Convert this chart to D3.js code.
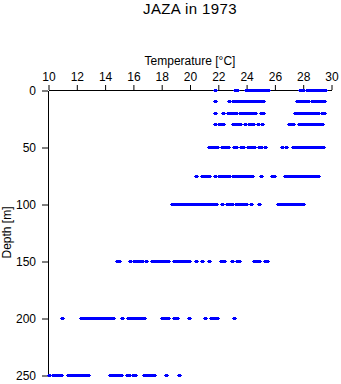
<!DOCTYPE html>
<html>
<head>
<meta charset="utf-8">
<script src="https://cdn.jsdelivr.net/npm/d3@7"></script>
<style>
  html, body { margin: 0; padding: 0; background: #fff; }
  svg { display: block; font-family: "Liberation Sans", Arial, Helvetica, sans-serif; }
</style>
</head>
<body>
<svg id="chart" width="341" height="384"></svg>
<script>
// ---- data ----
const title = "JAZA in 1973";
const xLabel = "Temperature [\u00B0C]";
const yLabel = "Depth [m]";
const xTicks = [10, 12, 14, 16, 18, 20, 22, 24, 26, 28, 30];
const yTicks = [0, 50, 100, 150, 200, 250];
const depths = [0, 10, 20, 30, 50, 75, 100, 150, 200, 250];

const temps0 = [21.80, 23.18, 23.32, 23.96, 24.06, 24.17, 24.31, 24.45, 24.56, 24.66, 24.80, 24.94, 25.05, 25.16, 25.30, 25.44, 25.54, 27.77, 27.91, 28.01, 28.26, 28.40, 28.54, 28.69, 28.83, 28.97, 29.11, 29.25, 29.39, 29.53];
const temps10 = [21.80, 22.76, 23.04, 23.21, 23.39, 23.53, 23.74, 23.88, 24.03, 24.17, 24.31, 24.45, 24.59, 24.73, 24.94, 25.16, 27.55, 27.69, 27.84, 27.98, 28.12, 28.33, 28.61, 28.75, 28.89, 29.04, 29.18, 29.32, 29.46];
const temps20 = [21.80, 22.30, 22.68, 22.82, 23.04, 23.25, 23.50, 23.74, 23.92, 24.10, 24.27, 24.45, 24.59, 25.01, 25.16, 27.45, 27.62, 27.77, 27.91, 28.05, 28.19, 28.33, 28.47, 28.61, 28.75, 28.89, 29.04, 29.32, 29.46];
const temps30 = [21.80, 22.05, 22.19, 22.33, 23.04, 23.18, 23.32, 23.50, 23.92, 24.17, 24.31, 24.45, 24.84, 25.12, 26.99, 27.13, 27.27, 27.70, 27.84, 27.98, 28.12, 28.26, 28.40, 28.54, 28.69, 28.83, 28.97, 29.11, 29.36];
const temps50 = [21.34, 21.48, 21.62, 21.77, 21.94, 22.26, 22.40, 22.54, 22.72, 23.11, 23.28, 23.60, 23.74, 24.10, 24.24, 24.38, 24.52, 24.87, 25.01, 25.33, 26.53, 26.81, 27.27, 27.41, 27.55, 27.70, 27.84, 27.98, 28.12, 28.26, 28.40, 28.54, 28.69, 28.83, 28.97, 29.11, 29.25, 29.39];
const temps75 = [20.39, 20.85, 20.99, 21.13, 21.31, 21.80, 22.05, 22.19, 22.33, 22.51, 22.79, 23.04, 23.18, 23.32, 23.46, 23.60, 23.74, 23.88, 24.10, 24.24, 24.41, 25.05, 25.79, 25.93, 26.71, 26.85, 26.99, 27.20, 27.34, 27.48, 27.62, 27.77, 27.91, 28.05, 28.19, 28.33, 28.47, 28.61, 28.75, 28.89, 29.07];
const temps100 = [18.73, 18.87, 19.01, 19.16, 19.33, 19.58, 19.72, 19.86, 20.00, 20.14, 20.28, 20.39, 20.64, 20.78, 20.92, 21.06, 21.20, 21.34, 21.48, 21.62, 21.77, 21.84, 22.28, 22.65, 22.83, 22.97, 23.25, 23.39, 23.53, 23.74, 23.88, 23.99, 24.31, 24.87, 26.25, 26.39, 26.53, 26.67, 26.81, 26.95, 27.10, 27.24, 27.41, 27.55, 27.70, 27.84, 28.01];
const temps150 = [14.85, 14.99, 15.79, 16.05, 16.19, 16.33, 16.47, 16.61, 16.86, 17.32, 17.46, 17.60, 17.74, 17.88, 18.10, 18.24, 18.41, 18.87, 19.01, 19.16, 19.30, 19.44, 19.58, 19.72, 19.86, 19.93, 20.39, 20.88, 21.31, 22.19, 22.37, 22.99, 23.32, 23.46, 24.52, 24.66, 24.91, 25.30, 25.44];
const temps200 = [10.95, 12.31, 12.45, 12.59, 12.73, 12.87, 13.01, 13.15, 13.29, 13.37, 13.51, 13.65, 13.79, 13.93, 14.04, 14.21, 14.35, 14.53, 15.17, 15.63, 15.77, 15.91, 16.12, 16.26, 16.40, 16.54, 16.72, 18.03, 18.17, 18.31, 18.45, 18.87, 19.05, 19.90, 21.03, 21.48, 21.62, 21.77, 21.94, 23.11];
const temps250 = [10.05, 10.33, 10.47, 10.61, 10.75, 10.89, 11.39, 11.53, 11.67, 11.81, 11.95, 12.10, 12.24, 12.38, 12.52, 12.66, 12.80, 14.36, 14.50, 14.64, 14.78, 14.92, 15.10, 15.56, 15.70, 15.98, 16.12, 16.76, 16.90, 17.04, 17.18, 17.32, 17.43, 18.27, 19.19];

const tempsByDepth = [temps0, temps10, temps20, temps30, temps50, temps75, temps100, temps150, temps200, temps250];

// ---- build points ----
const points = [];
depths.forEach((d, i) => tempsByDepth[i].forEach(t => points.push({ depth: d, temp: t })));

// ---- chart ----
const svg = d3.select("#chart");
const x = d3.scaleLinear().domain([10, 30]).range([48.5, 331.5]);
const y = d3.scaleLinear().domain([0, 250]).range([90.5, 375.5]);

// title
svg.append("text")
  .attr("x", 190).attr("y", 14)
  .attr("text-anchor", "middle")
  .style("font-size", "15px")
  .style("letter-spacing", "0.4px")
  .text(title);

// top axis
const gx = svg.append("g")
  .attr("transform", "translate(0,90)")
  .call(d3.axisTop(x).tickValues(xTicks).tickFormat(d3.format("d"))
    .tickSizeInner(5).tickSizeOuter(0).tickPadding(4));
gx.selectAll("text").style("font-size", "12px").attr("fill", "#000").style("font-family", "inherit");
gx.selectAll("line").attr("stroke", "#000");
gx.select(".domain").attr("stroke", "#000");

// left axis
const gy = svg.append("g")
  .attr("transform", "translate(48,0)")
  .call(d3.axisLeft(y).tickValues(yTicks).tickFormat(d3.format("d"))
    .tickSizeInner(6).tickSizeOuter(0).tickPadding(6));
gy.selectAll("text").style("font-size", "12px").attr("fill", "#000").style("font-family", "inherit");
gy.selectAll("line").attr("stroke", "#000");
gy.select(".domain").attr("stroke", "#000");

// axis titles
svg.append("text")
  .attr("x", 190).attr("y", 65)
  .attr("text-anchor", "middle")
  .style("font-size", "12px")
  .text(xLabel);

svg.append("text")
  .attr("transform", "translate(10.5,232.5) rotate(-90)")
  .attr("text-anchor", "middle")
  .style("font-size", "12px")
  .text(yLabel);

// points: small plus-like markers
const marker = "M-2.5,-0.5h1v-1h3v1h1v1h-1v1h-3v-1h-1z";
svg.append("g")
  .attr("fill", "#0000ff")
  .selectAll("path")
  .data(points)
  .join("path")
  .attr("transform", d => `translate(${Math.round(x(d.temp)) + 0.5},${Math.floor(y(d.depth)) + 0.5})`)
  .attr("d", marker);
</script>
</body>
</html>
